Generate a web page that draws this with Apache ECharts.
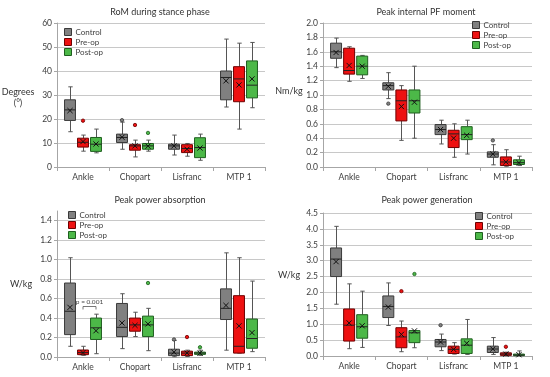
<!DOCTYPE html>
<html>
<head>
<meta charset="utf-8">
<script src="https://cdn.jsdelivr.net/npm/echarts@6/dist/echarts.min.js"></script>
<style>html,body{margin:0;padding:0;background:#fff}#c{width:550px;height:377px}</style>
</head>
<body>
<div id="c"></div>
<script>
// ---- data ----
const categories = ['Ankle', 'Chopart', 'Lisfranc', 'MTP 1'];
const groups = ['Control', 'Pre-op', 'Post-op'];

// each entry: [min, Q1, median, Q3, max, mean] per category
const romControl = [[14.7, 19.4, 23.8, 28.0, 33.4, 23.5], [7.4, 10.2, 12.3, 13.7, 18.7, 12.4], [5.0, 7.4, 8.8, 9.5, 13.3, 8.8], [25.0, 28.0, 37.3, 40.0, 53.3, 35.9]];
const romPreop = [[6.6, 8.3, 10.3, 12.0, 13.3, 10.6], [4.2, 7.0, 8.8, 9.3, 11.2, 8.8], [4.5, 6.0, 7.7, 9.3, 9.8, 7.4], [15.8, 27.2, 36.7, 41.8, 51.6, 34.2]];
const romPostop = [[5.9, 6.5, 9.5, 12.3, 15.8, 9.6], [6.6, 7.4, 8.8, 9.8, 11.2, 8.7], [2.8, 3.9, 8.1, 12.2, 13.7, 7.9], [24.7, 28.8, 34.1, 44.2, 51.9, 36.7]];
const romOutliers = [[0, 1, 19.3], [1, 0, 19.5], [1, 1, 17.5], [1, 2, 14.2]]; // [category, group, value]

const pfControl = [[1.38, 1.51, 1.60, 1.72, 1.79, 1.59], [0.95, 1.07, 1.13, 1.17, 1.31, 1.12], [0.32, 0.45, 0.52, 0.59, 0.65, 0.52], [0.03, 0.135, 0.18, 0.21, 0.31, 0.18]];
const pfPreop = [[1.19, 1.29, 1.34, 1.65, 1.67, 1.41], [0.37, 0.64, 0.92, 1.07, 1.13, 0.84], [0.135, 0.27, 0.46, 0.51, 0.60, 0.40], [0.01, 0.02, 0.07, 0.14, 0.24, 0.07]];
const pfPostop = [[1.23, 1.28, 1.40, 1.54, 1.55, 1.40], [0.40, 0.75, 0.92, 1.07, 1.40, 0.90], [0.18, 0.38, 0.45, 0.56, 0.65, 0.44], [0.02, 0.035, 0.06, 0.10, 0.15, 0.06]];
const pfOutliers = [[1, 0, 0.88], [3, 0, 0.37]];

const absControl = [[0.11, 0.23, 0.47, 0.76, 1.02, 0.51], [0.086, 0.21, 0.305, 0.55, 0.65, 0.35], [0.003, 0.014, 0.04, 0.08, 0.17, 0.05], [0.07, 0.385, 0.50, 0.70, 1.07, 0.53]];
const absPreop = [[0.017, 0.024, 0.045, 0.072, 0.11, 0.045], [0.21, 0.265, 0.33, 0.40, 0.46, 0.325], [0.005, 0.014, 0.04, 0.06, 0.07, 0.04], [0.04, 0.04, 0.11, 0.63, 1.02, 0.32]];
const absPostop = [[0.034, 0.18, 0.30, 0.40, 0.44, 0.27], [0.065, 0.21, 0.33, 0.42, 0.50, 0.34], [0.017, 0.027, 0.04, 0.05, 0.07, 0.04], [0.055, 0.09, 0.19, 0.39, 0.78, 0.25]];
const absOutliers = [[2, 0, 0.18], [2, 1, 0.205], [2, 2, 0.10], [1, 2, 0.76]];
const absPValue = [[0, 0.525, 'p = 0.001']]; // [category, value, label] bracket Pre-op vs Post-op

const genControl = [[1.63, 2.50, 3.05, 3.40, 4.08, 2.97], [0.96, 1.21, 1.56, 1.89, 2.30, 1.54], [0.17, 0.29, 0.44, 0.52, 0.69, 0.44], [0.05, 0.11, 0.22, 0.31, 0.58, 0.22]];
const genPreop = [[0.23, 0.47, 0.97, 1.48, 2.27, 1.04], [0.135, 0.26, 0.60, 0.89, 1.10, 0.68], [0.06, 0.08, 0.21, 0.31, 0.42, 0.21], [0.01, 0.02, 0.06, 0.10, 0.12, 0.06]];
const genPostop = [[0.27, 0.56, 0.92, 1.30, 2.04, 0.95], [0.26, 0.42, 0.73, 0.80, 0.80, 0.79], [0.05, 0.08, 0.34, 0.54, 1.15, 0.40], [0.01, 0.01, 0.03, 0.06, 0.16, 0.04]];
const genOutliers = [[1, 1, 2.04], [1, 2, 2.58], [2, 0, 0.97], [3, 1, 0.29]];

const panelTitles = ['RoM during stance phase', 'Peak internal PF moment', 'Peak power absorption', 'Peak power generation'];
const panelUnits = ['Degrees\n(°)', 'Nm/kg', 'W/kg', 'W/kg'];
const yMax = [60, 2.0, 1.5, 4.5];
const yInterval = [10, 0.2, 0.2, 0.5];
const yDecimals = [0, 1, 1, 1];

// ---- styling / layout ----
const FONT = 'Lato';
const fills = ['#808080', '#ee1111', '#4cb848'];
const borders = ['#3a3a3a', '#6e0000', '#1f5f1f'];
const grids = [
  { left: 57, top: 23, width: 208, height: 144 },
  { left: 323, top: 23, width: 209, height: 144 },
  { left: 57, top: 211, width: 208, height: 146 },
  { left: 323, top: 213, width: 209, height: 143 }
];
const titlePos = [[160, 8], [426, 8], [160, 196], [427, 196]];
const unitPos = [[18, 98], [289, 91], [21, 284], [289, 275]];
const legendPos = [[64, 28], [472, 21], [68, 211], [475, 212]];

const panelData = [
  [romControl, romPreop, romPostop, romOutliers],
  [pfControl, pfPreop, pfPostop, pfOutliers],
  [absControl, absPreop, absPostop, absOutliers],
  [genControl, genPreop, genPostop, genOutliers]
];

function groupCenter(api, cat, g) {
  const band = api.size([1, 0])[0];
  return { cx: api.coord([cat, 0])[0] + (g - 1) * band * 0.25, band: band };
}

function boxRenderer(g) {
  return function (params, api) {
    const cat = api.value(0);
    const c = groupCenter(api, cat, g);
    const cx = c.cx, w = c.band * 0.21;
    const Y = v => api.coord([cat, v])[1];
    const yMin = Y(api.value(1)), yQ1 = Y(api.value(2)), yMed = Y(api.value(3)),
      yQ3 = Y(api.value(4)), yMx = Y(api.value(5)), yMean = Y(api.value(6));
    const wc = '#555555', cap = 2.2, xs = 2.6;
    const ln = (x1, y1, x2, y2, col, lw) => ({ type: 'line', shape: { x1, y1, x2, y2 }, style: { stroke: col, lineWidth: lw || 1 } });
    const xr = Math.round(cx) + 0.5;
    return {
      type: 'group',
      children: [
        ln(xr, yMx, xr, yQ3, wc),
        ln(xr, yQ1, xr, yMin, wc),
        ln(xr - cap, yMx, xr + cap, yMx, wc),
        ln(xr - cap, yMin, xr + cap, yMin, wc),
        { type: 'rect', shape: { x: cx - w / 2, y: yQ3, width: w, height: Math.max(yQ1 - yQ3, 1) },
          style: { fill: fills[g], stroke: borders[g], lineWidth: 1 } },
        ln(cx - w / 2, yMed, cx + w / 2, yMed, '#222', 1),
        ln(cx - xs, yMean - xs, cx + xs, yMean + xs, '#111', 1),
        ln(cx - xs, yMean + xs, cx + xs, yMean - xs, '#111', 1)
      ]
    };
  };
}

function outlierRenderer(params, api) {
  const cat = api.value(0), g = api.value(1);
  const c = groupCenter(api, cat, g);
  const y = api.coord([cat, api.value(2)])[1];
  return { type: 'circle', shape: { cx: c.cx, cy: y, r: 1.7 }, style: { fill: fills[g], stroke: borders[g], lineWidth: 0.8 } };
}

function pRenderer(params, api) {
  const cat = api.value(0);
  const a = groupCenter(api, cat, 1).cx, b = groupCenter(api, cat, 2).cx;
  const y = Math.round(api.coord([cat, api.value(1)])[1]) + 0.5;
  const col = '#555';
  return {
    type: 'group',
    children: [
      { type: 'polyline', shape: { points: [[a, y + 3], [a, y], [b, y], [b, y + 3]] }, style: { stroke: col, lineWidth: 0.8, fill: null } },
      { type: 'text', style: { text: absPValue[params.dataIndex][2], x: (a + b) / 2, y: y - 1.5, textAlign: 'center', textVerticalAlign: 'bottom', fill: '#444', font: '6.5px ' + FONT } }
    ]
  };
}

const option = {
  animation: false,
  backgroundColor: '#ffffff',
  textStyle: { fontFamily: FONT },
  title: panelTitles.map((t, i) => ({
    text: t, left: titlePos[i][0], top: titlePos[i][1], textAlign: 'center', padding: 0,
    textStyle: { fontSize: 9, fontWeight: 'normal', color: '#333', fontFamily: FONT }
  })),
  legend: legendPos.map((p, i) => ({
    left: p[0], top: p[1], orient: 'vertical', padding: 0, itemGap: 2, itemWidth: 7, itemHeight: 7,
    icon: 'rect', selectedMode: false,
    textStyle: { fontSize: 8, color: '#404040', fontFamily: FONT, lineHeight: 8, padding: [0, 0, 0, -1] },
    data: groups.map((n, g) => ({ name: n, itemStyle: { color: fills[g], borderColor: borders[g], borderWidth: 1 } }))
  })),
  grid: grids.map(g => Object.assign({ containLabel: false }, g)),
  xAxis: grids.map((g, i) => ({
    type: 'category', gridIndex: i, data: categories,
    axisLine: { lineStyle: { color: '#a6a6a6' } },
    axisTick: { show: true, length: 4, lineStyle: { color: '#a6a6a6' } },
    axisLabel: { fontSize: 8.5, color: '#404040', margin: 6, fontFamily: FONT },
    splitLine: { show: false }
  })),
  yAxis: grids.map((g, i) => ({
    type: 'value', gridIndex: i, min: 0, max: yMax[i], interval: yInterval[i],
    axisLine: { show: true, lineStyle: { color: '#a6a6a6' } },
    axisTick: { show: true, length: 3, lineStyle: { color: '#a6a6a6' } },
    axisLabel: { fontSize: 8.5, color: '#404040', margin: 5, fontFamily: FONT, showMaxLabel: i !== 2,
      formatter: v => Number(v).toFixed(yDecimals[i]) },
    splitLine: { show: true, lineStyle: { color: i === 2 ? ['#c8c8c8','#c8c8c8','#c8c8c8','#c8c8c8','#c8c8c8','#c8c8c8','#c8c8c8','#c8c8c8','rgba(0,0,0,0)'] : '#c8c8c8', width: 1 } }
  })),
  graphic: panelUnits.map((u, i) => ({
    type: 'text', x: unitPos[i][0], y: unitPos[i][1],
    style: { text: u, fill: '#333', font: '9px ' + FONT, textAlign: 'center', textVerticalAlign: 'middle', lineHeight: 11 }
  })),
  series: []
};

panelData.forEach((pd, i) => {
  for (let g = 0; g < 3; g++) {
    option.series.push({
      type: 'custom', name: groups[g], xAxisIndex: i, yAxisIndex: i,
      itemStyle: { color: fills[g], borderColor: borders[g] },
      renderItem: boxRenderer(g),
      encode: { x: 0, y: [1, 2, 3, 4, 5, 6] },
      data: pd[g].map((d, c) => [c].concat(d)),
      z: 3
    });
  }
  for (let g = 0; g < 3; g++) {
    const pts = pd[3].filter(o => o[1] === g);
    if (pts.length) option.series.push({
      type: 'custom', name: groups[g], xAxisIndex: i, yAxisIndex: i,
      itemStyle: { color: fills[g] },
      renderItem: outlierRenderer,
      encode: { x: 0, y: 2 },
      data: pts, z: 4
    });
  }
});
option.series.push({
  type: 'custom', xAxisIndex: 2, yAxisIndex: 2, renderItem: pRenderer,
  encode: { x: 0, y: 1 }, data: absPValue.map(p => [p[0], p[1]]), z: 5, silent: true
});

const chart = echarts.init(document.getElementById('c'));
chart.setOption(option);
</script>
</body>
</html>
